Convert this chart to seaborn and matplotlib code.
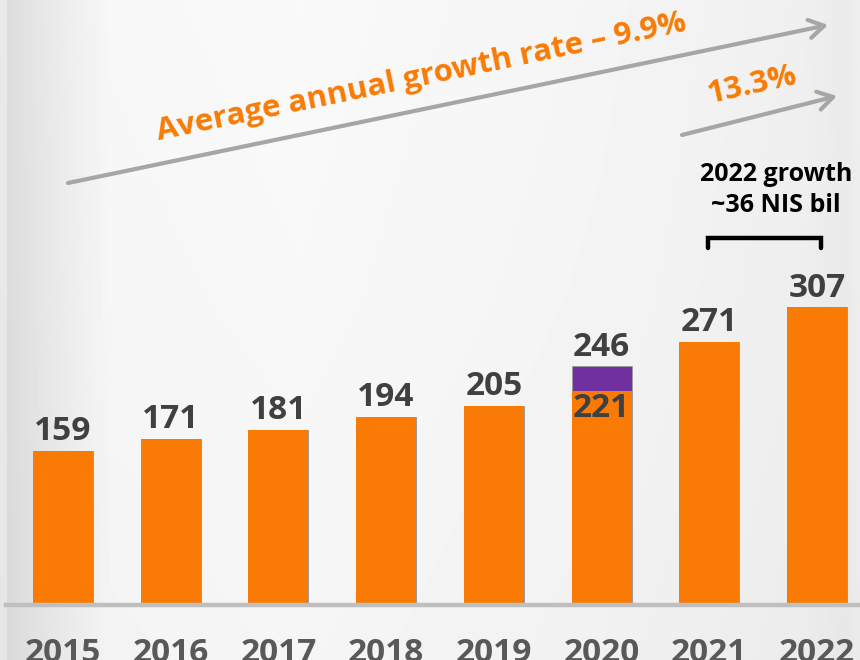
import numpy as np
import pandas as pd
import matplotlib
matplotlib.use("Agg")
import matplotlib.pyplot as plt
import seaborn as sns

# ---- data ----
years = ["2015", "2016", "2017", "2018", "2019", "2020", "2021", "2022"]
base_values = [159, 171, 181, 194, 205, 221, 271, 307]
extra_2020 = [0, 0, 0, 0, 0, 25, 0, 0]
avg_growth_text = "Average annual growth rate \u2013 9.9%"
last_growth_text = "13.3%"
note_text = "2022 growth\n~36 NIS bil"

totals = [b + e for b, e in zip(base_values, extra_2020)]
df = pd.DataFrame({"year": years, "base": base_values, "total": totals})

ORANGE = "#F97B05"
PURPLE = "#7030A0"
LABEL = "#404040"
YEARC = "#595959"
ARROW = "#A6A6A6"

sns.set_theme(style="white")
plt.rcParams["font.family"] = ["Open Sans", "DejaVu Sans"]

W, H = 860, 660
fig = plt.figure(figsize=(W / 100, H / 100), dpi=100)

# background gradient
bg = fig.add_axes([0, 0, 1, 1], zorder=0)
xs = np.arange(W)
prof = np.interp(xs, [0, 6, 7, 40, 110, 300, 600, 800, 845, 860],
                 [0.91, 0.91, 0.86, 0.90, 0.965, 0.972, 0.955, 0.935, 0.915, 0.935])
ys = np.arange(H)
vert = np.interp(ys, [0, 300, 660], [0.005, 0.0, -0.01])
img = np.clip(prof[None, :] + vert[:, None], 0, 1)
bg.imshow(img, cmap="gray", vmin=0, vmax=1, aspect="auto", extent=[0, W, H, 0])
bg.set_xlim(0, W)
bg.set_ylim(H, 0)
bg.axis("off")

# main axes
x0, x1 = 6, 860
ybase = 605
ax = fig.add_axes([x0 / W, (H - ybase) / H, (x1 - x0) / W, ybase / H], zorder=2)
ax.patch.set_alpha(0)

sns.barplot(data=df, x="year", y="total", color=PURPLE, saturation=1, width=0.557,
            ax=ax, edgecolor="#9a9a9a", linewidth=0.6)
sns.barplot(data=df, x="year", y="base", color=ORANGE, saturation=1, width=0.557,
            ax=ax, linewidth=0)

ax.set_xlim(-0.529, 7.399)
ax.set_ylim(0, 624)
ax.set_xlabel("")
ax.set_ylabel("")
ax.set_yticks([])
for s in ["top", "right", "left"]:
    ax.spines[s].set_visible(False)
ax.spines["bottom"].set_color("#BFBFBF")
ax.spines["bottom"].set_linewidth(3.2)
ax.tick_params(axis="x", length=0, pad=23, labelsize=24, labelcolor=YEARC)
for t in ax.get_xticklabels():
    t.set_fontweight("bold")

for i, (b, t) in enumerate(zip(base_values, totals)):
    ax.annotate(str(t), (i, t), xytext=(0, 2), textcoords="offset points",
                ha="center", va="bottom", fontsize=24, fontweight="bold", color=LABEL)
    if t != b:
        ax.annotate(str(b), (i, b), xytext=(0, -1), textcoords="offset points",
                    ha="center", va="top", fontsize=24, fontweight="bold", color=LABEL)

# overlay for annotations (pixel coordinates)
ov = fig.add_axes([0, 0, 1, 1], zorder=3)
ov.set_xlim(0, W)
ov.set_ylim(H, 0)
ov.axis("off")
ov.patch.set_alpha(0)

arrow_style = dict(arrowstyle="->,head_length=0.9,head_width=0.55", color=ARROW,
                   lw=3.0, shrinkA=0, shrinkB=0)
ov.annotate("", xy=(828, 25), xytext=(68, 183), arrowprops=arrow_style)
ov.annotate("", xy=(837, 96), xytext=(682, 135), arrowprops=arrow_style)

ov.text(421, 78, avg_growth_text, rotation=11.7, rotation_mode="anchor",
        ha="center", va="center", fontsize=22.5, fontweight="bold", color=ORANGE)
ov.text(752, 85, last_growth_text, rotation=12.5, rotation_mode="anchor",
        ha="center", va="center", fontsize=22.5, fontweight="bold", color=ORANGE)

ov.text(776, 190, note_text, ha="center", va="center", fontsize=18,
        fontweight="bold", color="black", linespacing=1.35)
ov.plot([708, 708, 821, 821], [248, 238, 238, 248], color="black", lw=3.2,
        solid_joinstyle="miter")

fig.savefig("out.png", dpi=100)
